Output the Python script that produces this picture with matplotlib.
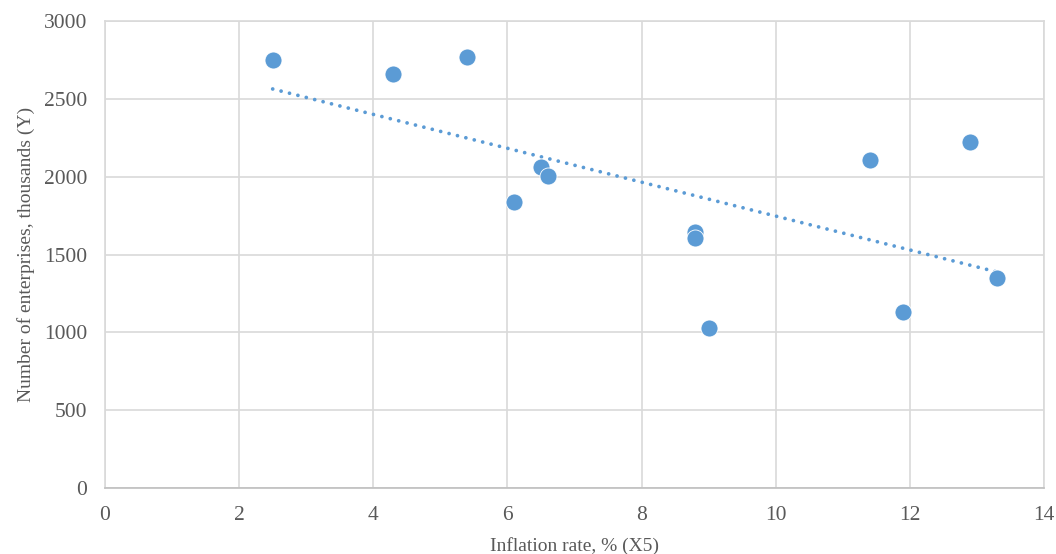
import numpy as np
import matplotlib
matplotlib.use("Agg")
import matplotlib.pyplot as plt

inflation = [2.5, 4.3, 5.4, 6.1, 6.5, 6.6, 8.8, 8.8, 9.0, 11.4, 11.9, 12.9, 13.3]
enterprises = [2750, 2660, 2770, 1835, 2060, 2003, 1642, 1603, 1030, 2106, 1133, 2221, 1346]
x_ticks = [0, 2, 4, 6, 8, 10, 12, 14]
y_ticks = [0, 500, 1000, 1500, 2000, 2500, 3000]

plt.rcParams['font.family'] = ['Liberation Serif', 'DejaVu Serif']
fig = plt.figure(figsize=(10.56, 5.54), dpi=100)
ax = fig.add_axes([105/1056, 66/554, (1044-105)/1056, (488-21)/554])

color = '#5B9BD5'
ax.scatter(inflation, enterprises, s=150, color=color, edgecolors='white', linewidths=0.6, zorder=3)

xa = np.array(inflation)
ya = np.array(enterprises)
k, b = np.polyfit(xa, ya, 1)
xl = np.array([xa.min(), xa.max()])
ax.plot(xl, k * xl + b, color=color, linestyle=(0, (0.01, 2.3)), linewidth=2.7,
        dash_capstyle='round', solid_capstyle='round', zorder=2)

ax.set_xlim(0, 14)
ax.set_ylim(0, 3000)
ax.set_xticks(x_ticks)
ax.set_yticks(y_ticks)
ax.grid(True, color='#D9D9D9', linewidth=1.2)
ax.set_axisbelow(True)
for s in ax.spines.values():
    s.set_color('#D9D9D9')
    s.set_linewidth(1.2)
ax.spines['bottom'].set_color('#BFBFBF')
ax.tick_params(length=0, labelsize=15.5, colors='#595959')
ax.tick_params(axis='y', pad=13)
ax.tick_params(axis='x', pad=13)
ax.set_xlabel('Inflation rate, % (X5)', fontsize=14, color='#595959', labelpad=9)
ax.set_ylabel('Number of enterprises, thousands (Y)', fontsize=14, color='#595959', labelpad=6)

fig.savefig('out.png', dpi=100)
